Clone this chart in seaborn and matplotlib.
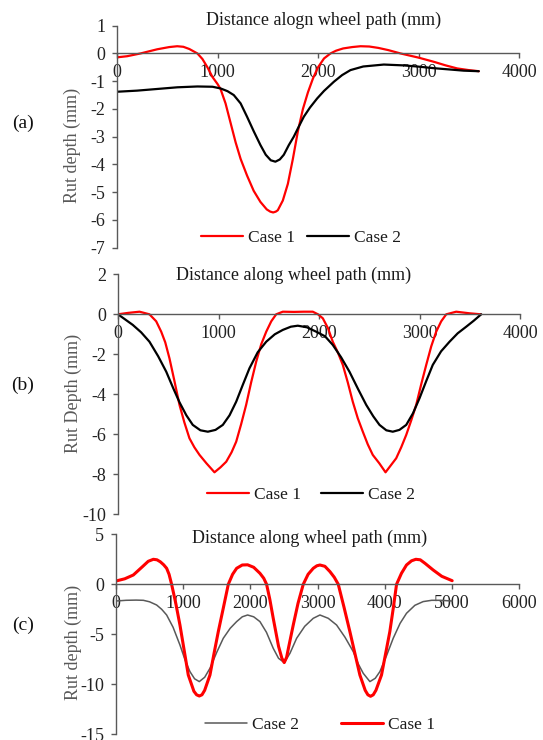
import matplotlib
matplotlib.use("Agg")
import matplotlib.pyplot as plt
import seaborn as sns
import pandas as pd

# ---------------- data ----------------
# Panel (a)
a_case1_x = [0, 100, 234, 400, 520, 599, 660, 720, 800, 850, 900, 950, 1000, 1030, 1080, 1130, 1180,
             1230, 1294, 1360, 1427, 1490, 1525, 1554, 1580, 1600, 1650, 1700, 1750, 1800, 1850,
             1900, 1950, 2000, 2060, 2124, 2180, 2250, 2340, 2423, 2510, 2600, 2700, 2821, 3000,
             3152, 3270, 3385, 3500, 3600]
a_case1_y = [-0.14, -0.10, 0.0, 0.15, 0.23, 0.26, 0.24, 0.16, 0.0, -0.2, -0.5, -0.85, -1.1, -1.28,
             -1.8, -2.5, -3.2, -3.8, -4.4, -4.95, -5.35, -5.62, -5.7, -5.73, -5.7, -5.65, -5.3,
             -4.7, -3.8, -2.8, -2.0, -1.4, -0.9, -0.5, -0.18, 0.0, 0.1, 0.18, 0.23, 0.26, 0.25,
             0.2, 0.12, 0.0, -0.15, -0.30, -0.43, -0.54, -0.6, -0.64]
a_case2_x = [0, 200, 400, 600, 800, 950, 1030, 1100, 1162, 1230, 1294, 1360, 1427, 1480, 1530,
             1576, 1620, 1660, 1710, 1759, 1800, 1859, 1920, 1992, 2060, 2158, 2240, 2323, 2450,
             2655, 2850, 2986, 3150, 3318, 3450, 3600]
a_case2_y = [-1.38, -1.34, -1.28, -1.22, -1.19, -1.2, -1.26, -1.36, -1.5, -1.8, -2.28, -2.8, -3.3,
             -3.65, -3.85, -3.9, -3.82, -3.65, -3.3, -3.0, -2.7, -2.28, -1.95, -1.62, -1.35, -1.02,
             -0.78, -0.6, -0.47, -0.40, -0.43, -0.47, -0.53, -0.58, -0.62, -0.64]

# Panel (b)
b_case1_x = [0, 100, 214, 313, 380, 430, 470, 512, 560, 612, 660, 711, 760, 811, 880, 960, 1020,
             1077, 1130, 1176, 1225, 1275, 1325, 1375, 1425, 1475, 1525, 1574, 1640, 1750, 1850,
             1938, 1990, 2038, 2090, 2137, 2187, 2237, 2286, 2336, 2386, 2436, 2485, 2535, 2600,
             2662, 2715, 2768, 2818, 2868, 2918, 2967, 3017, 3067, 3117, 3166, 3216, 3266, 3365,
             3498, 3610]
b_case1_y = [0.0, 0.07, 0.13, 0.0, -0.35, -0.87, -1.4, -2.2, -3.3, -4.53, -5.4, -6.2, -6.65, -7.03,
             -7.45, -7.9, -7.65, -7.37, -6.9, -6.37, -5.5, -4.53, -3.4, -2.37, -1.5, -0.87, -0.35,
             0.0, 0.13, 0.12, 0.13, 0.13, 0.0, -0.2, -0.7, -1.37, -1.9, -2.53, -3.4, -4.37, -5.2,
             -5.87, -6.5, -7.03, -7.45, -7.9, -7.55, -7.2, -6.65, -6.03, -5.3, -4.53, -3.5, -2.53,
             -1.6, -0.87, -0.35, 0.0, 0.13, 0.05, 0.0]
b_case2_x = [0, 147, 230, 313, 400, 480, 550, 612, 680, 744, 820, 894, 970, 1043, 1110, 1176, 1240,
             1308, 1390, 1475, 1560, 1640, 1720, 1789, 1880, 1972, 2060, 2137, 2220, 2303, 2390,
             2470, 2540, 2602, 2670, 2734, 2800, 2868, 2935, 3000, 3066, 3132, 3215, 3299, 3380,
             3465, 3540, 3614]
b_case2_y = [0.0, -0.53, -0.9, -1.37, -2.1, -2.87, -3.7, -4.4, -5.05, -5.53, -5.8, -5.87, -5.78,
             -5.53, -5.05, -4.37, -3.55, -2.7, -1.9, -1.37, -1.0, -0.78, -0.62, -0.57, -0.65, -0.87,
             -1.1, -1.53, -2.15, -2.87, -3.75, -4.53, -5.1, -5.53, -5.8, -5.87, -5.78, -5.53, -4.95,
             -4.2, -3.35, -2.53, -1.85, -1.37, -0.95, -0.62, -0.32, 0.0]

# Panel (c)
c_case1_x = [0, 130, 258, 400, 480, 556, 610, 660, 710, 754, 790, 828, 890, 952, 1015, 1076, 1160,
             1200, 1240, 1280, 1320, 1399, 1460, 1523, 1600, 1672, 1736, 1796, 1880, 1959, 2050,
             2143, 2200, 2242, 2290, 2341, 2420, 2470, 2505, 2540, 2570, 2639, 2710, 2788, 2860,
             2937, 2990, 3036, 3110, 3185, 3250, 3309, 3395, 3482, 3560, 3631, 3710, 3750, 3790,
             3830, 3870, 3953, 4015, 4077, 4130, 4177, 4250, 4325, 4400, 4464, 4530, 4600, 4722,
             4850, 5005]
c_case1_y = [0.33, 0.55, 0.93, 1.8, 2.3, 2.5, 2.45, 2.25, 1.95, 1.6, 1.0, 0.0, -1.9, -4.07, -6.6,
             -9.07, -10.7, -11.05, -11.17, -11.05, -10.6, -9.07, -6.9, -4.73, -2.3, 0.0, 1.0, 1.6,
             1.93, 1.95, 1.7, 1.1, 0.6, 0.0, -1.5, -3.4, -6.2, -7.4, -7.83, -7.3, -6.3, -4.07, -1.9,
             0.0, 1.0, 1.6, 1.85, 1.93, 1.8, 1.27, 0.7, 0.0, -2.3, -4.73, -7.0, -9.07, -10.6,
             -11.05, -11.2, -11.05, -10.6, -9.07, -6.9, -4.73, -2.3, 0.0, 1.1, 1.93, 2.35, 2.5,
             2.45, 2.1, 1.43, 0.8, 0.36]
c_case2_x = [0, 150, 300, 407, 500, 605, 680, 754, 850, 952, 1030, 1101, 1170, 1240, 1320, 1399,
             1500, 1597, 1700, 1796, 1880, 1959, 2050, 2143, 2240, 2341, 2420, 2505, 2590, 2689,
             2810, 2937, 3036, 3160, 3284, 3410, 3532, 3610, 3681, 3780, 3860, 3929, 4030, 4127,
             4230, 4325, 4450, 4573, 4700, 4821, 5005]
c_case2_y = [-1.67, -1.6, -1.58, -1.6, -1.75, -2.07, -2.5, -3.07, -4.3, -6.07, -7.6, -8.73, -9.45,
             -9.73, -9.3, -8.4, -6.8, -5.4, -4.4, -3.73, -3.25, -3.07, -3.25, -3.73, -4.8, -6.4,
             -7.4, -7.83, -6.9, -5.4, -4.2, -3.4, -3.07, -3.4, -4.07, -5.3, -6.73, -8.0, -8.9,
             -9.73, -9.4, -8.73, -7.1, -5.4, -3.9, -2.9, -2.1, -1.73, -1.6, -1.6, -1.67]

titles = ["Distance alogn wheel path (mm)", "Distance along wheel path (mm)",
          "Distance along wheel path (mm)"]
ylabels = ["Rut depth (mm)", "Rut Depth (mm)", "Rut depth (mm)"]
panel_tags = ["(a)", "(b)", "(c)"]

# ---------------- style ----------------
sns.set_style("white")
plt.rcParams["font.family"] = ["Liberation Serif", "DejaVu Serif"]
plt.rcParams["axes.unicode_minus"] = False

W, H = 543, 740
fig = plt.figure(figsize=(W / 100, H / 100), dpi=100)

def fx(px):
    return px / W

def fy(py):
    return 1 - py / H

boxes = [(117, 25.7, 519, 247.7), (118, 274.3, 520, 514.3), (116, 534.3, 519, 734.3)]
ylims = [(-7, 1), (-10, 2), (-15, 5)]
ysteps = [1, 2, 5]
xmaxs = [4000, 4000, 6000]
title_pos = [(324, 20), (294, 275), (310, 538)]
ylabel_pos = [(72, 145), (73, 393), (73, 642)]
tag_pos = [(23, 123), (23, 385), (23, 625)]
legend_pos = [(301, 238), (311, 495), (320, 725)]
col_spacing = [0.7, 1.15, 2.4]

panels = [
    [(a_case1_x, a_case1_y, "Case 1", "#FF0000", 1.6), (a_case2_x, a_case2_y, "Case 2", "#000000", 1.6)],
    [(b_case1_x, b_case1_y, "Case 1", "#FF0000", 1.6), (b_case2_x, b_case2_y, "Case 2", "#000000", 1.6)],
    [(c_case2_x, c_case2_y, "Case 2", "#595959", 1.1), (c_case1_x, c_case1_y, "Case 1", "#FF0000", 2.2)],
]

for i, series in enumerate(panels):
    l, t, r, b = boxes[i]
    ax = fig.add_axes([fx(l), fy(b), (r - l) / W, (b - t) / H])
    for xs, ys, name, col, lw in series:
        df = pd.DataFrame({"x": xs, "y": ys})
        sns.lineplot(data=df, x="x", y="y", ax=ax, color=col, linewidth=lw,
                     label=name, estimator=None, sort=False)
    lo, hi = ylims[i]
    ax.set_ylim(lo, hi)
    ax.set_xlim(0, xmaxs[i])
    ax.set_yticks(list(range(lo, hi + 1, ysteps[i])))
    ax.set_xticks(list(range(0, xmaxs[i] + 1, 1000)))
    ax.set_xlabel("")
    ax.set_ylabel("")
    for s in ["top", "right"]:
        ax.spines[s].set_visible(False)
    ax.spines["bottom"].set_position(("data", 0))
    for s in ["left", "bottom"]:
        ax.spines[s].set_color("#595959")
        ax.spines[s].set_linewidth(1.0)
    ax.tick_params(axis="both", which="major", direction="out", length=3.5, width=1.0,
                   color="#595959", labelsize=13, labelcolor="#222222")
    ax.tick_params(axis="x", pad=4, bottom=True)
    ax.tick_params(axis="y", pad=5, left=True)
    ax.grid(False)
    ax.patch.set_alpha(0)
    ax.legend(loc="center", bbox_to_anchor=(fx(legend_pos[i][0]), fy(legend_pos[i][1])),
              bbox_transform=fig.transFigure, ncol=2, frameon=False, fontsize=12.5,
              handlelength=2.4, handletextpad=0.3, columnspacing=col_spacing[i],
              borderpad=0, labelcolor="#1a1a1a")
    fig.text(fx(title_pos[i][0]), fy(title_pos[i][1]), titles[i], ha="center", va="center",
             fontsize=13, color="#1a1a1a")
    fig.text(fx(ylabel_pos[i][0]), fy(ylabel_pos[i][1]), ylabels[i], ha="center", va="center",
             rotation=90, fontsize=13, color="#595959")
    fig.text(fx(tag_pos[i][0]), fy(tag_pos[i][1]), panel_tags[i], ha="center", va="center",
             fontsize=14, color="#111111")

fig.savefig("out.png", dpi=100)
